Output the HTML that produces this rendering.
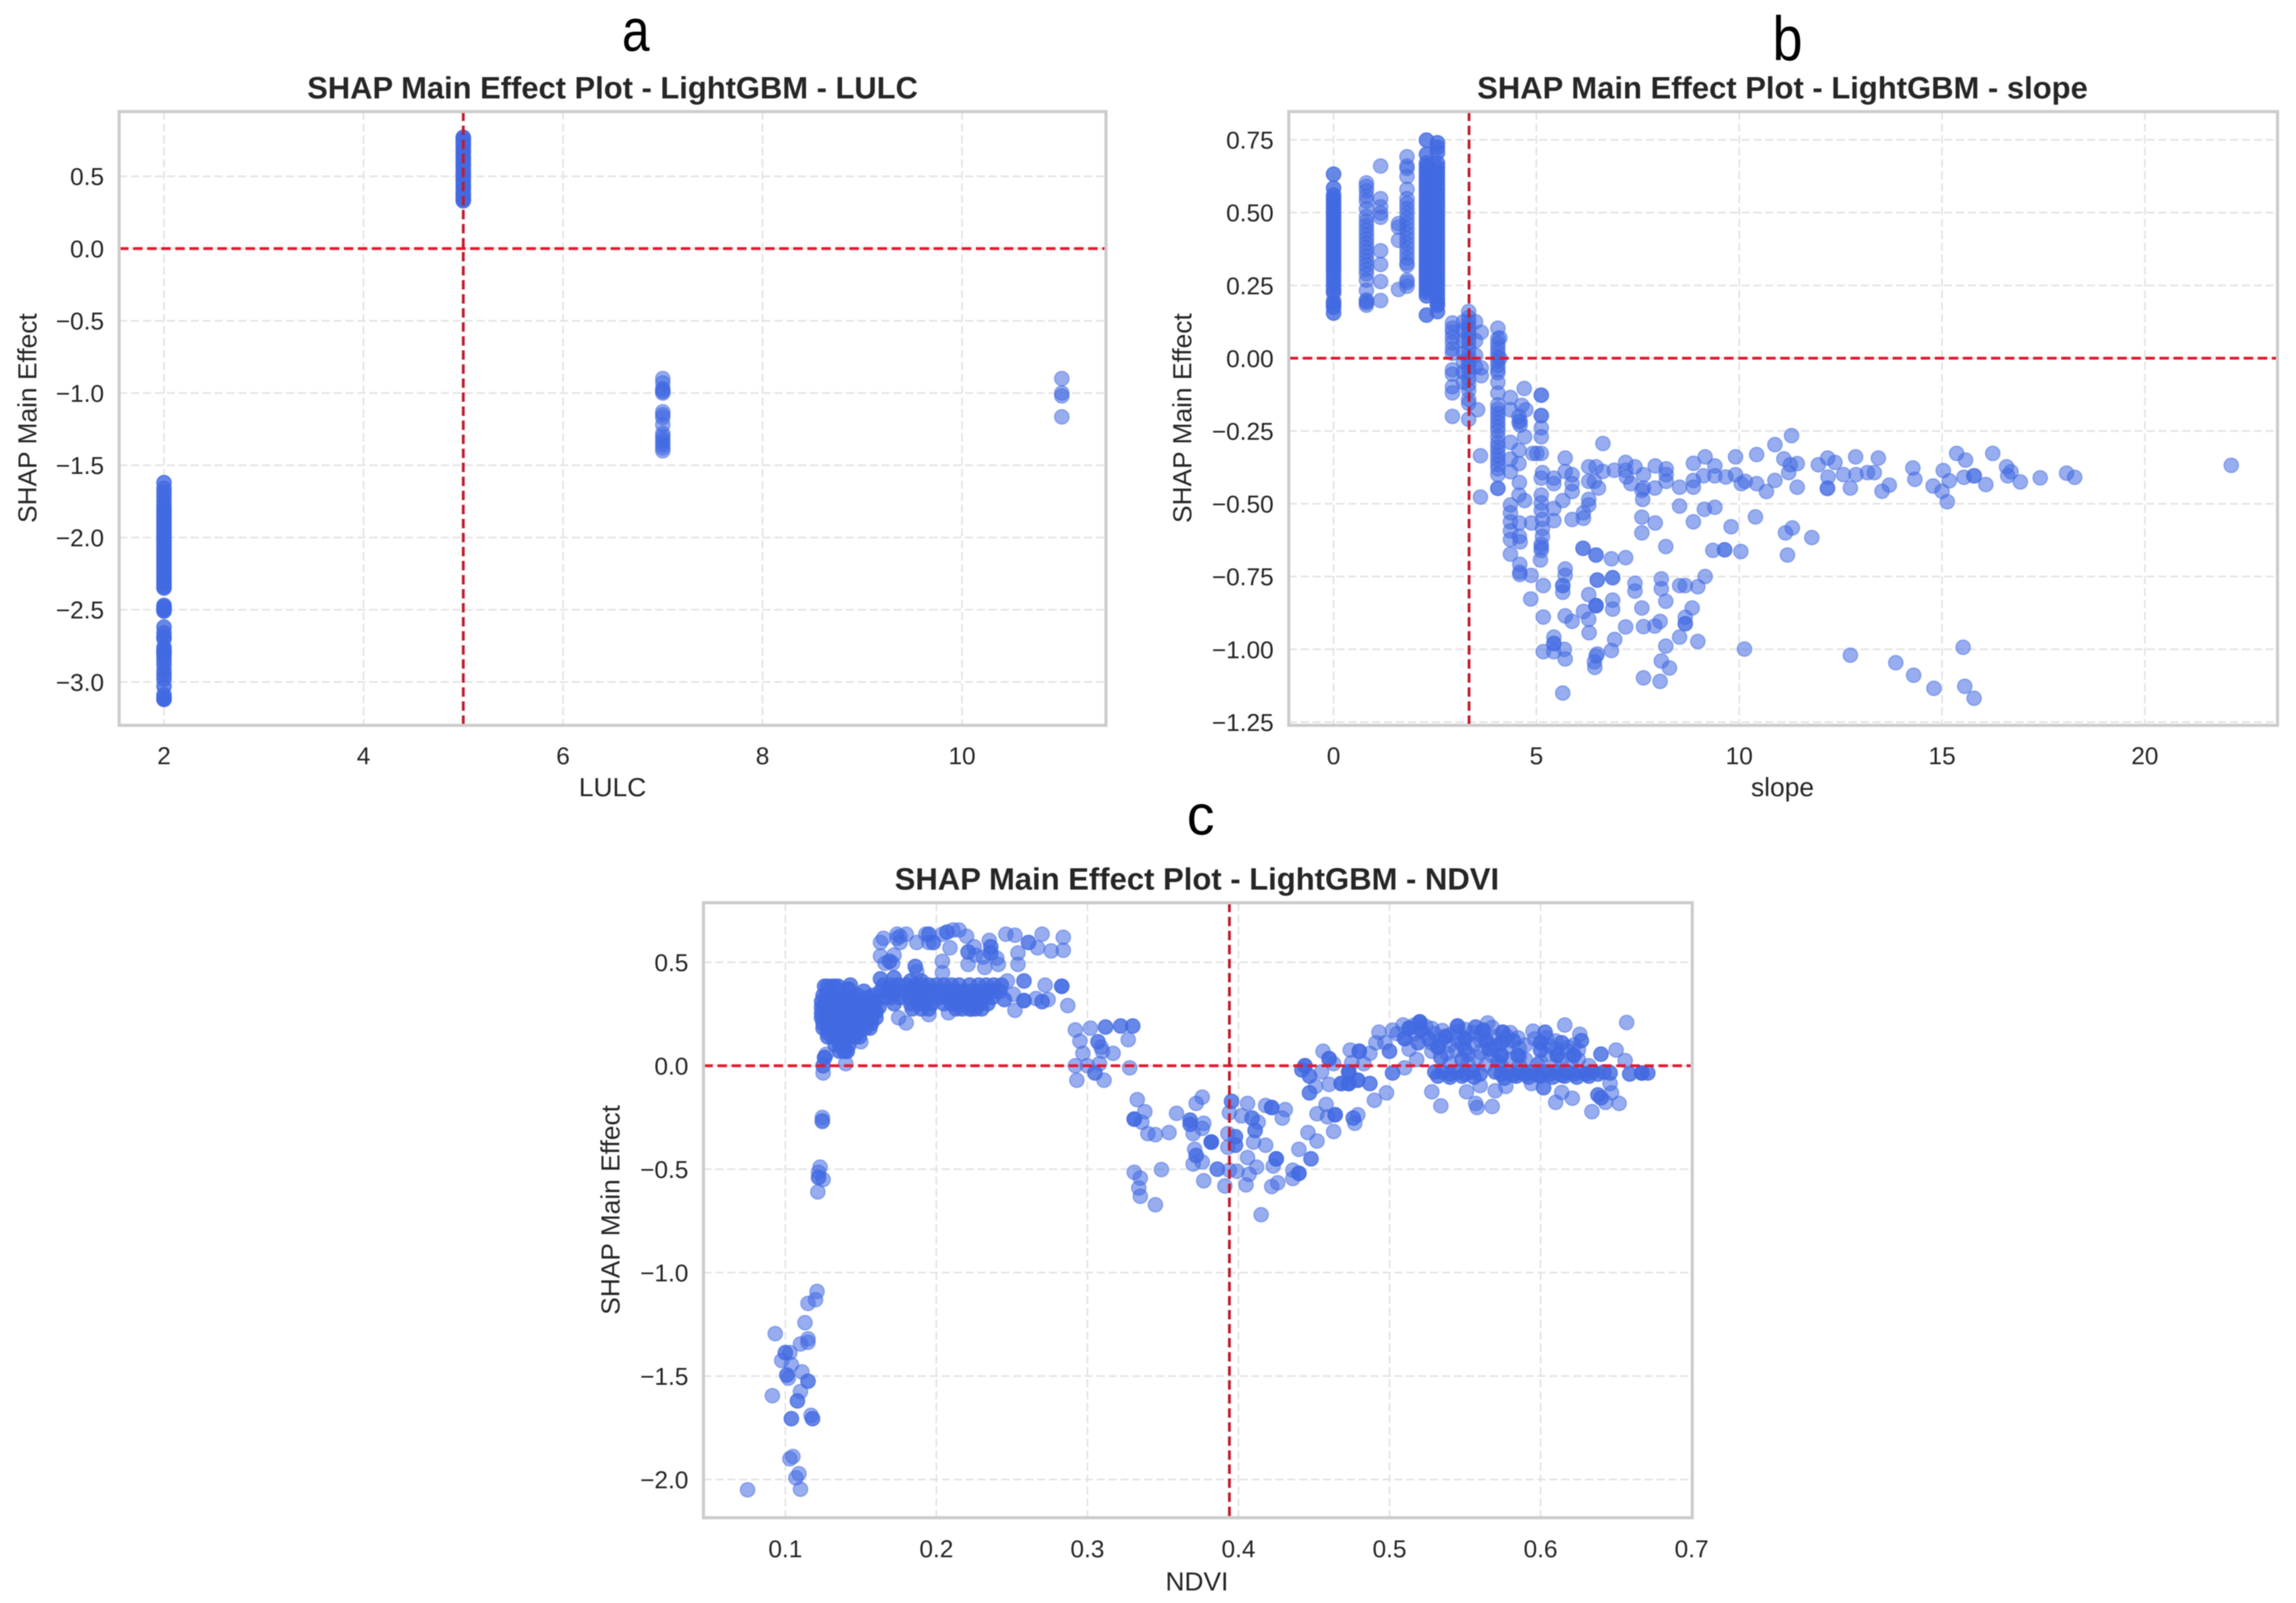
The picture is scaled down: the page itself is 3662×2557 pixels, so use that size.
<!DOCTYPE html>
<html lang="en">
<head>
<meta charset="utf-8">
<title>SHAP Main Effect Plots - LightGBM</title>
<style>
html,body{margin:0;padding:0;background:#fff;}
svg{display:block;font-family:"Liberation Sans",Arial,sans-serif;filter:blur(0.9px);}
.title{font-size:49px;font-weight:bold;fill:#262626;text-anchor:middle;}
.axis-label{font-size:42px;fill:#262626;text-anchor:middle;}
.letter{font-size:96px;fill:#000;}
.tick-label{font-size:39px;fill:#262626;}
</style>
</head>
<body>
<svg id="figure" xmlns="http://www.w3.org/2000/svg" width="3662" height="2557" viewBox="0 0 3662 2557">
  <rect x="0" y="0" width="3662" height="2557" fill="#ffffff"/>

  <text class="letter" x="992" y="81" textLength="44" lengthAdjust="spacingAndGlyphs">a</text>
  <text class="letter" x="2827" y="96" textLength="48" lengthAdjust="spacingAndGlyphs" style="font-size:100px">b</text>
  <text class="letter" x="1893" y="1331" textLength="44" lengthAdjust="spacingAndGlyphs" style="font-size:90px">c</text>

  <g id="panel-a">
    <text class="title" x="977" y="157" textLength="974" lengthAdjust="spacingAndGlyphs">SHAP Main Effect Plot - LightGBM - LULC</text>
    <text class="axis-label" x="977" y="1270">LULC</text>
    <text class="axis-label" transform="translate(58 667) rotate(-90)">SHAP Main Effect</text>
  </g>
  <g id="panel-b">
    <text class="title" x="2843" y="157" textLength="974" lengthAdjust="spacingAndGlyphs">SHAP Main Effect Plot - LightGBM - slope</text>
    <text class="axis-label" x="2843" y="1270">slope</text>
    <text class="axis-label" transform="translate(1900 667) rotate(-90)">SHAP Main Effect</text>
  </g>
  <g id="panel-c">
    <text class="title" x="1909" y="1419" textLength="964" lengthAdjust="spacingAndGlyphs">SHAP Main Effect Plot - LightGBM - NDVI</text>
    <text class="axis-label" x="1909" y="2537">NDVI</text>
    <text class="axis-label" transform="translate(988 1930) rotate(-90)">SHAP Main Effect</text>
  </g>
</svg>
<script>
/* ---------- Panel a: LULC values ---------- */
const lulcXTicks = [2, 4, 6, 8, 10];
const lulcXLabels = ["2", "4", "6", "8", "10"];
const lulcYTicks = [0.5, 0, -0.5, -1, -1.5, -2, -2.5, -3];
const lulcYLabels = ["0.5", "0.0", "−0.5", "−1.0", "−1.5", "−2.0", "−2.5", "−3.0"];
const lulcRefX = 5;
const lulcRefY = 0;
const lulcClass2 = [-1.62,-1.66,-1.69,-1.72,-1.75,-1.78,-1.8,-1.82,-1.84,-1.86,-1.88,-1.9,-1.92,-1.94,-1.96,-1.98,-2,-2.02,-2.04,-2.06,-2.08,-2.1,-2.12,-2.14,-2.16,-2.18,-2.2,-2.22,-2.24,-2.26,-2.28,-2.3,-2.32,-2.34,-2.35,-2.47,-2.48,-2.49,-2.5,-2.51,-2.62,-2.66,-2.69,-2.7,-2.76,-2.78,-2.79,-2.8,-2.82,-2.85,-2.88,-2.92,-2.95,-2.98,-3.03,-3.09,-3.11,-3.12,-3.12];
const lulcClass5 = [0.77,0.76,0.75,0.73,0.72,0.7,0.68,0.67,0.65,0.63,0.62,0.6,0.58,0.57,0.55,0.53,0.52,0.5,0.48,0.47,0.45,0.43,0.42,0.4,0.38,0.37,0.35,0.34,0.33];
const lulcClass7 = [-0.9,-0.93,-0.97,-0.98,-0.99,-1,-1.13,-1.15,-1.17,-1.22,-1.28,-1.3,-1.32,-1.34,-1.36,-1.38,-1.4];
const lulcClass11 = [-0.9,-1,-1.02,-1.165];

/* ---------- Panel b: slope values ---------- */
const slopeXTicks = [0, 5, 10, 15, 20];
const slopeXLabels = ["0", "5", "10", "15", "20"];
const slopeYTicks = [0.75, 0.5, 0.25, 0, -0.25, -0.5, -0.75, -1, -1.25];
const slopeYLabels = ["0.75", "0.50", "0.25", "0.00", "−0.25", "−0.50", "−0.75", "−1.00", "−1.25"];
const slopeRefX = 3.34;
const slopeRefY = 0;
const slopeColumn00 = [0.632,0.584,0.56,0.548,0.536,0.524,0.512,0.5,0.488,0.476,0.464,0.452,0.44,0.428,0.416,0.404,0.392,0.38,0.368,0.356,0.344,0.332,0.32,0.308,0.296,0.28,0.265,0.25,0.235,0.225,0.195,0.185,0.175,0.155];
const slopeColumn08 = [0.602,0.59,0.575,0.556,0.54,0.513,0.487,0.47,0.455,0.44,0.425,0.41,0.395,0.38,0.365,0.35,0.335,0.32,0.305,0.29,0.268,0.233,0.2,0.195,0.19,0.182];
const slopeColumn12 = [0.66,0.548,0.52,0.498,0.484,0.369,0.322,0.263,0.198];
const slopeColumn16 = [0.462,0.45,0.405,0.236];
const slopeColumn18 = [0.692,0.652,0.66,0.624,0.58,0.548,0.531,0.514,0.497,0.48,0.463,0.446,0.429,0.412,0.395,0.378,0.361,0.344,0.327,0.319,0.268,0.26,0.247];
const slopeColumn23 = [0.749,0.7,0.67,0.658,0.646,0.634,0.622,0.61,0.598,0.586,0.574,0.562,0.55,0.538,0.526,0.514,0.502,0.49,0.478,0.466,0.454,0.442,0.43,0.418,0.406,0.394,0.382,0.37,0.358,0.346,0.334,0.322,0.31,0.298,0.286,0.274,0.262,0.25,0.238,0.226,0.214,0.148];
const slopeColumn25 = [0.74,0.724,0.706,0.67,0.655,0.64,0.625,0.61,0.595,0.58,0.565,0.55,0.535,0.52,0.505,0.49,0.475,0.46,0.445,0.43,0.415,0.4,0.385,0.37,0.355,0.34,0.325,0.31,0.295,0.28,0.265,0.25,0.235,0.22,0.205,0.19,0.182,0.16];
const slopeColumn29 = [0.121,0.103,0.089,0.071,0.053,0.032,0.017,-0.04,-0.055,-0.098,-0.119,-0.2];
const slopeColumn32 = [0.125,0.096,0.06,0.017,-0.012,-0.047,-0.083];
const slopeColumn33 = [0.16,0.14,0.125,0.11,0.096,0.082,0.067,0.053,0.032,0.01,-0.004,-0.019,-0.033,-0.047,-0.069,-0.09,-0.11,-0.141,-0.155,-0.21];
const slopeColumn41 = [0.103,0.067,0.05,0.035,0.02,0.005,-0.01,-0.025,-0.04,-0.05,-0.083,-0.12,-0.16,-0.175,-0.19,-0.205,-0.22,-0.235,-0.25,-0.27,-0.29,-0.305,-0.32,-0.335,-0.35,-0.365,-0.38,-0.4,-0.447,-0.447];
const slopeCloudUpper = [[3.5,0.125],[3.5,0.06],[3.5,0.01],[3.5,-0.03],[3.64,0.089],[3.64,-0.033],[3.64,-0.06],[3.55,-0.177],[4.1,0.07],[4.1,0],[4.36,-0.135],[4.7,-0.104],[5.12,-0.127],[5.12,-0.127],[5.12,-0.197],[5.12,-0.197],[4.6,-0.216],[4.57,-0.2],[4.57,-0.22],[4.6,-0.23],[4.36,-0.177],[4.64,-0.162],[4.74,-0.177],[5.12,-0.239],[5.12,-0.27],[4.71,-0.27],[4.36,-0.289],[4.57,-0.316],[4.57,-0.362],[4.36,-0.347],[4.91,-0.327],[5.12,-0.327],[5.01,-0.327],[3.62,-0.335],[3.62,-0.477],[4.58,-0.427],[4.36,-0.39],[4.71,-0.489],[4.57,-0.47]];
const slopeCloudMain = [[4.36,-0.504],[4.36,-0.531],[4.36,-0.562],[4.36,-0.593],[4.36,-0.623],[4.36,-0.673],[4.58,-0.566],[4.58,-0.612],[4.6,-0.631],[4.88,-0.566],[5.12,-0.412],[5.15,-0.393],[5.12,-0.47],[5.12,-0.497],[5.12,-0.523],[5.15,-0.554],[5.15,-0.585],[5.15,-0.612],[5.12,-0.639],[5.12,-0.65],[5.12,-0.66],[5.1,-0.693],[4.59,-0.708],[4.59,-0.735],[4.59,-0.743],[4.87,-0.746],[5.17,-0.781],[4.86,-0.827],[5.17,-0.889],[5.43,-0.412],[5.43,-0.431],[5.43,-0.516],[5.43,-0.558],[5.71,-0.343],[5.71,-0.389],[5.65,-0.489],[5.88,-0.4],[5.88,-0.431],[5.88,-0.458],[5.88,-0.554],[6.16,-0.55],[6.16,-0.531],[6.29,-0.373],[6.29,-0.423],[6.29,-0.485],[6.29,-0.504],[6.47,-0.373],[6.43,-0.423],[6.53,-0.446],[6.64,-0.293],[6.64,-0.389],[6.92,-0.385],[7.2,-0.358],[7.2,-0.385],[7.22,-0.408],[7.33,-0.431],[7.43,-0.373],[7.64,-0.4],[7.64,-0.446],[7.6,-0.454],[7.62,-0.485],[7.92,-0.446],[7.93,-0.37],[8.2,-0.38],[8.2,-0.4],[8.2,-0.423]];
const slopeBandRight = [[8.53,-0.443],[8.53,-0.508],[8.87,-0.361],[9.16,-0.339],[8.87,-0.42],[8.87,-0.443],[9.12,-0.404],[9.4,-0.37],[9.4,-0.404],[9.67,-0.408],[9.91,-0.339],[9.91,-0.4],[10.05,-0.431],[10.15,-0.423],[10.43,-0.331],[10.43,-0.431],[10.67,-0.458],[10.88,-0.297],[10.88,-0.42],[11.1,-0.346],[11.29,-0.266],[11.26,-0.366],[11.43,-0.362],[11.22,-0.393],[11.43,-0.443],[11.95,-0.366],[12.18,-0.343],[12.36,-0.358],[12.19,-0.408],[12.18,-0.446],[12.17,-0.448],[12.57,-0.4],[12.74,-0.446],[12.87,-0.339],[12.88,-0.4],[13.16,-0.393],[13.33,-0.393],[13.43,-0.343],[13.52,-0.457],[13.7,-0.436],[14.28,-0.377],[14.33,-0.416],[14.78,-0.439],[15.03,-0.386],[15,-0.457],[15.13,-0.493],[15.36,-0.327],[15.18,-0.421],[15.58,-0.35],[15.54,-0.409],[15.78,-0.404],[15.8,-0.404],[16.08,-0.434],[16.25,-0.327],[16.59,-0.373],[16.62,-0.404],[16.7,-0.39],[16.93,-0.425],[17.42,-0.411],[18.07,-0.395],[18.27,-0.409],[22.13,-0.368]];
const slopeLowerMiddle = [[7.6,-0.546],[7.93,-0.566],[7.6,-0.6],[9.14,-0.519],[9.4,-0.512],[8.87,-0.562],[9.8,-0.579],[10.4,-0.545],[11.14,-0.6],[11.31,-0.583],[11.79,-0.616],[11.19,-0.676],[8.19,-0.647],[9.35,-0.66],[9.64,-0.658],[9.64,-0.658],[10.04,-0.664],[6.15,-0.653],[6.15,-0.653],[6.47,-0.676],[6.47,-0.676],[6.85,-0.689],[7.2,-0.685]];
const slopeLowerDeep = [[5.71,-0.724],[5.71,-0.746],[5.65,-0.781],[5.65,-0.781],[5.65,-0.804],[6.5,-0.762],[6.5,-0.762],[6.88,-0.754],[6.88,-0.754],[7.43,-0.773],[7.43,-0.8],[8.08,-0.758],[8.08,-0.792],[8.19,-0.835],[8.53,-0.781],[8.67,-0.781],[8.98,-0.785],[9.16,-0.75],[6.29,-0.812],[6.47,-0.85],[6.47,-0.85],[6.47,-0.85],[6.88,-0.831],[6.88,-0.862],[6.16,-0.87],[6.29,-0.897],[6.3,-0.943],[7.6,-0.858],[8.84,-0.858],[5.71,-0.885],[5.88,-0.904],[7.2,-0.923],[7.64,-0.922],[7.92,-0.92],[8.05,-0.904],[8.67,-0.912],[8.67,-0.912],[8.67,-0.89],[8.53,-0.958],[8.98,-0.973],[6.93,-0.966],[8.19,-0.989],[5.43,-0.958],[5.43,-0.98],[5.43,-0.98],[5.17,-1.008],[5.43,-1.008],[5.69,-1],[5.71,-1.033],[6.5,-1.016],[6.47,-1.023],[6.43,-1.043],[6.44,-1.062],[6.85,-1.004],[8.08,-1.04],[8.28,-1.064],[7.64,-1.098],[8.05,-1.11],[5.65,-1.15],[10.13,-0.999],[12.74,-1.02],[15.52,-0.993],[15.56,-1.127],[15.79,-1.168],[14.8,-1.134],[14.3,-1.089],[13.86,-1.046]];

/* ---------- Panel c: NDVI values ---------- */
const ndviXTicks = [0.1, 0.2, 0.3, 0.4, 0.5, 0.6, 0.7];
const ndviXLabels = ["0.1", "0.2", "0.3", "0.4", "0.5", "0.6", "0.7"];
const ndviYTicks = [0.5, 0, -0.5, -1, -1.5, -2];
const ndviYLabels = ["0.5", "0.0", "−0.5", "−1.0", "−1.5", "−2.0"];
const ndviRefX = 0.394;
const ndviRefY = 0;
const ndviLowTail = [[0.075,-2.05],[0.0914,-1.595],[0.0933,-1.295],[0.0976,-1.425],[0.1,-1.387],[0.1,-1.387],[0.103,-1.387],[0.104,-1.445],[0.101,-1.495],[0.101,-1.495],[0.102,-1.51],[0.111,-1.48],[0.115,-1.525],[0.115,-1.525],[0.11,-1.575],[0.108,-1.62],[0.108,-1.62],[0.104,-1.706],[0.104,-1.706],[0.118,-1.706],[0.118,-1.706],[0.117,-1.69],[0.105,-1.889],[0.103,-1.9],[0.109,-1.972],[0.107,-1.992],[0.11,-2.047],[0.113,-1.242],[0.115,-1.32],[0.115,-1.337],[0.11,-1.345],[0.115,-1.149],[0.12,-1.131],[0.121,-1.091]];
const ndviRiseStem = [[0.1245,-0.25],[0.1245,-0.265],[0.1245,-0.27],[0.123,-0.49],[0.122,-0.515],[0.122,-0.54],[0.122,-0.54],[0.125,-0.55],[0.1215,-0.61],[0.126,0.04],[0.126,0.04],[0.126,0.04],[0.127,0.055],[0.125,0],[0.125,0],[0.125,-0.035],[0.14,0.07],[0.14,0.01],[0.15,0.116]];
const ndviLeftBlock = [[0.126,0.384],[0.128,0.384],[0.131,0.384],[0.133,0.384],[0.135,0.384],[0.143,0.39],[0.142,0.37],[0.141,0.37],[0.125,0.34],[0.127,0.335],[0.13,0.33],[0.133,0.325],[0.136,0.32],[0.139,0.335],[0.142,0.33],[0.145,0.325],[0.148,0.34],[0.152,0.36],[0.155,0.33],[0.158,0.34],[0.124,0.31],[0.127,0.305],[0.13,0.3],[0.133,0.295],[0.136,0.3],[0.14,0.305],[0.144,0.3],[0.148,0.31],[0.152,0.3],[0.156,0.31],[0.16,0.31],[0.124,0.283],[0.126,0.283],[0.129,0.283],[0.132,0.283],[0.135,0.283],[0.138,0.283],[0.141,0.283],[0.144,0.283],[0.147,0.283],[0.15,0.283],[0.153,0.283],[0.156,0.283],[0.159,0.283],[0.162,0.283],[0.124,0.255],[0.128,0.255],[0.132,0.255],[0.136,0.255],[0.14,0.255],[0.144,0.255],[0.148,0.255],[0.152,0.255],[0.156,0.255],[0.16,0.26],[0.124,0.232],[0.127,0.232],[0.13,0.232],[0.133,0.232],[0.136,0.232],[0.139,0.232],[0.142,0.232],[0.145,0.232],[0.148,0.232],[0.151,0.232],[0.154,0.232],[0.157,0.232],[0.16,0.232],[0.125,0.205],[0.129,0.205],[0.133,0.205],[0.137,0.205],[0.141,0.205],[0.145,0.205],[0.149,0.205],[0.153,0.205],[0.157,0.205],[0.125,0.182],[0.128,0.182],[0.131,0.182],[0.134,0.182],[0.137,0.182],[0.14,0.182],[0.143,0.182],[0.146,0.182],[0.15,0.182],[0.153,0.182],[0.156,0.182],[0.128,0.16],[0.132,0.16],[0.136,0.16],[0.14,0.16],[0.144,0.16],[0.148,0.16],[0.128,0.14],[0.131,0.14],[0.134,0.14],[0.137,0.14],[0.14,0.14],[0.143,0.14],[0.146,0.14],[0.149,0.14],[0.133,0.1],[0.136,0.1],[0.139,0.1],[0.142,0.1],[0.136,0.07],[0.139,0.07],[0.141,0.07]];
const ndviMiddleBand = [[0.163,0.42],[0.172,0.425],[0.183,0.41],[0.19,0.41],[0.165,0.39],[0.17,0.39],[0.175,0.39],[0.18,0.39],[0.186,0.39],[0.19,0.39],[0.195,0.39],[0.2,0.39],[0.205,0.39],[0.21,0.39],[0.215,0.39],[0.222,0.39],[0.228,0.39],[0.233,0.39],[0.238,0.39],[0.243,0.39],[0.163,0.36],[0.168,0.36],[0.172,0.36],[0.178,0.36],[0.184,0.36],[0.188,0.36],[0.193,0.36],[0.198,0.36],[0.203,0.36],[0.208,0.36],[0.213,0.36],[0.218,0.36],[0.223,0.36],[0.228,0.36],[0.233,0.36],[0.238,0.36],[0.242,0.36],[0.166,0.33],[0.17,0.33],[0.176,0.33],[0.182,0.33],[0.187,0.33],[0.191,0.33],[0.196,0.33],[0.202,0.33],[0.207,0.33],[0.212,0.33],[0.217,0.33],[0.222,0.33],[0.227,0.33],[0.232,0.33],[0.237,0.33],[0.172,0.3],[0.183,0.3],[0.188,0.3],[0.192,0.3],[0.197,0.3],[0.205,0.3],[0.21,0.3],[0.215,0.3],[0.22,0.3],[0.224,0.3],[0.229,0.3],[0.234,0.3],[0.184,0.275],[0.19,0.275],[0.195,0.275],[0.213,0.275],[0.217,0.275],[0.222,0.275],[0.226,0.275],[0.23,0.275]];
const ndviMiddleRight = [[0.247,0.41],[0.258,0.41],[0.258,0.41],[0.272,0.39],[0.283,0.384],[0.283,0.384],[0.283,0.384],[0.245,0.32],[0.245,0.32],[0.251,0.345],[0.258,0.315],[0.258,0.315],[0.258,0.315],[0.266,0.325],[0.27,0.31],[0.27,0.31],[0.274,0.32],[0.252,0.268],[0.287,0.291],[0.208,0.256],[0.223,0.273],[0.195,0.247],[0.175,0.232],[0.18,0.207]];
const ndviTopBand = [[0.163,0.596],[0.165,0.616],[0.163,0.53],[0.169,0.505],[0.169,0.505],[0.172,0.535],[0.171,0.495],[0.166,0.495],[0.174,0.636],[0.174,0.616],[0.176,0.626],[0.18,0.636],[0.176,0.596],[0.187,0.596],[0.193,0.636],[0.195,0.636],[0.195,0.636],[0.198,0.596],[0.198,0.596],[0.195,0.596],[0.204,0.636],[0.207,0.646],[0.207,0.646],[0.211,0.656],[0.215,0.656],[0.22,0.626],[0.209,0.57],[0.204,0.505],[0.204,0.45],[0.186,0.48],[0.186,0.48],[0.187,0.455],[0.221,0.55],[0.221,0.55],[0.225,0.575],[0.221,0.49],[0.235,0.606],[0.236,0.575],[0.236,0.575],[0.236,0.545],[0.236,0.545],[0.231,0.525],[0.232,0.475],[0.241,0.49],[0.24,0.52],[0.226,0.535],[0.246,0.636],[0.252,0.631],[0.261,0.596],[0.261,0.596],[0.27,0.636],[0.267,0.57],[0.276,0.555],[0.284,0.621],[0.284,0.558],[0.254,0.545],[0.254,0.49]];
const ndviDescent = [[0.292,0.173],[0.302,0.182],[0.312,0.187],[0.312,0.187],[0.322,0.192],[0.322,0.192],[0.33,0.192],[0.33,0.192],[0.327,0.126],[0.295,0.119],[0.307,0.116],[0.307,0.116],[0.309,0.09],[0.31,0.07],[0.317,0.06],[0.297,0.06],[0.292,0],[0.3,0.0],[0.308,0.01],[0.328,-0.01],[0.293,-0.07],[0.305,-0.035],[0.305,-0.035],[0.311,-0.07],[0.333,-0.164],[0.338,-0.222],[0.331,-0.258],[0.331,-0.258],[0.331,-0.258],[0.336,-0.273],[0.34,-0.328],[0.345,-0.333],[0.354,-0.323],[0.331,-0.515],[0.335,-0.543],[0.334,-0.591],[0.335,-0.631],[0.345,-0.672],[0.349,-0.502]];
const ndviTrough = [[0.359,-0.23],[0.368,-0.263],[0.368,-0.263],[0.376,-0.152],[0.372,-0.182],[0.368,-0.283],[0.368,-0.283],[0.377,-0.278],[0.376,-0.303],[0.37,-0.328],[0.382,-0.369],[0.382,-0.369],[0.382,-0.369],[0.382,-0.369],[0.371,-0.404],[0.372,-0.434],[0.372,-0.434],[0.376,-0.465],[0.37,-0.475],[0.386,-0.5],[0.386,-0.5],[0.393,-0.328],[0.398,-0.343],[0.398,-0.343],[0.393,-0.394],[0.398,-0.384],[0.398,-0.384],[0.394,-0.505],[0.399,-0.51],[0.377,-0.556],[0.391,-0.581],[0.405,-0.576],[0.3954,-0.172],[0.3954,-0.172],[0.394,-0.227],[0.406,-0.182],[0.402,-0.242],[0.409,-0.253],[0.409,-0.253],[0.413,-0.273],[0.411,-0.313],[0.411,-0.313],[0.41,-0.369],[0.418,-0.384],[0.406,-0.444],[0.412,-0.49],[0.407,-0.525],[0.415,-0.72],[0.418,-0.192],[0.422,-0.202],[0.422,-0.202],[0.422,-0.202],[0.431,-0.212],[0.429,-0.253],[0.425,-0.45],[0.425,-0.45],[0.425,-0.45],[0.423,-0.485],[0.44,-0.404],[0.448,-0.45],[0.448,-0.45],[0.446,-0.323],[0.452,-0.364],[0.426,-0.566],[0.422,-0.584],[0.436,-0.505],[0.44,-0.52],[0.44,-0.52],[0.44,-0.52],[0.436,-0.545],[0.458,-0.187],[0.452,-0.232],[0.459,-0.247],[0.464,-0.237],[0.464,-0.237],[0.464,-0.237],[0.476,-0.253],[0.476,-0.253],[0.479,-0.237],[0.463,-0.318],[0.477,-0.278]];
const ndviRecovery = [[0.447,-0.131],[0.447,-0.131],[0.451,-0.1],[0.444,0],[0.444,0],[0.444,0],[0.442,-0.02],[0.442,-0.02],[0.447,-0.05],[0.447,-0.05],[0.455,-0.03],[0.46,0.03],[0.463,0.01],[0.456,0.07],[0.46,0.035],[0.46,0.035],[0.468,-0.086],[0.468,-0.086],[0.468,-0.086],[0.473,-0.086],[0.473,-0.086],[0.473,-0.086],[0.473,-0.086],[0.479,-0.07],[0.479,-0.07],[0.479,-0.07],[0.487,-0.086],[0.487,-0.086],[0.473,-0.03],[0.473,-0.03],[0.473,-0.03],[0.473,-0.03],[0.46,-0.09],[0.474,0.076],[0.48,0.07],[0.48,0.07],[0.48,0.07],[0.487,0.06],[0.475,0.015],[0.483,0.01],[0.498,-0.131],[0.49,-0.167],[0.528,-0.126],[0.534,-0.194],[0.502,-0.035],[0.502,-0.035],[0.51,-0.01],[0.518,0.03]];
const ndviPlateau = [[0.493,0.162],[0.502,0.172],[0.509,0.197],[0.52,0.212],[0.52,0.212],[0.52,0.212],[0.52,0.212],[0.513,0.182],[0.513,0.182],[0.513,0.182],[0.521,0.172],[0.521,0.172],[0.521,0.172],[0.526,0.131],[0.526,0.131],[0.51,0.131],[0.51,0.131],[0.51,0.131],[0.519,0.111],[0.519,0.111],[0.497,0.111],[0.491,0.111],[0.5,0.07],[0.5,0.07],[0.513,0.08],[0.545,0.192],[0.545,0.192],[0.545,0.192],[0.557,0.187],[0.557,0.187],[0.565,0.207],[0.562,0.172],[0.562,0.172],[0.562,0.172],[0.575,0.162],[0.575,0.162],[0.575,0.162],[0.582,0.121],[0.582,0.121],[0.537,0.141],[0.537,0.141],[0.537,0.141],[0.55,0.131],[0.55,0.131],[0.55,0.131],[0.564,0.121],[0.564,0.121],[0.564,0.121],[0.574,0.111],[0.574,0.111],[0.574,0.111],[0.532,0.09],[0.532,0.09],[0.532,0.09],[0.55,0.08],[0.55,0.08],[0.566,0.08],[0.566,0.08],[0.566,0.08],[0.574,0.05],[0.574,0.05],[0.574,0.05],[0.585,0.05],[0.585,0.05],[0.534,0.04],[0.534,0.04],[0.548,0.03],[0.548,0.03],[0.558,0.04],[0.572,0.02],[0.572,0.02],[0.595,0.167],[0.603,0.162],[0.603,0.162],[0.616,0.197],[0.626,0.152],[0.627,0.121],[0.627,0.121],[0.6,0.111],[0.6,0.111],[0.6,0.111],[0.614,0.111],[0.614,0.111],[0.6,0.076],[0.6,0.076],[0.611,0.05],[0.611,0.05],[0.611,0.05],[0.622,0.05],[0.622,0.05],[0.622,0.05],[0.586,0.045],[0.64,0.056],[0.64,0.056],[0.65,0.076],[0.656,0.025],[0.657,0.209]];
const ndviPlateauFill = [[0.516,0.195],[0.524,0.19],[0.528,0.18],[0.505,0.155],[0.517,0.155],[0.53,0.155],[0.535,0.17],[0.54,0.15],[0.545,0.165],[0.55,0.175],[0.555,0.16],[0.56,0.15],[0.568,0.185],[0.57,0.14],[0.578,0.14],[0.58,0.16],[0.585,0.135],[0.59,0.1],[0.528,0.11],[0.534,0.12],[0.54,0.1],[0.545,0.125],[0.548,0.105],[0.556,0.105],[0.56,0.125],[0.57,0.095],[0.578,0.09],[0.586,0.085],[0.528,0.07],[0.538,0.06],[0.544,0.075],[0.552,0.055],[0.56,0.065],[0.568,0.05],[0.58,0.03],[0.59,0.03],[0.596,0.13],[0.604,0.135],[0.61,0.12],[0.606,0.095],[0.618,0.09],[0.622,0.1],[0.61,0.08],[0.618,0.07],[0.625,0.075],[0.604,0.055],[0.614,0.03],[0.625,0.03],[0.6,0.02],[0.54,0.01],[0.552,0.01],[0.564,0.005],[0.574,0],[0.586,0],[0.598,0.005],[0.61,0],[0.62,0.005],[0.632,0]];
const ndviBottomRow = [[0.53,-0.03],[0.535,-0.03],[0.54,-0.04],[0.545,-0.03],[0.55,-0.04],[0.555,-0.03],[0.56,-0.04],[0.57,-0.03],[0.574,-0.04],[0.578,-0.03],[0.582,-0.045],[0.586,-0.03],[0.59,-0.04],[0.594,-0.03],[0.598,-0.045],[0.602,-0.03],[0.606,-0.04],[0.61,-0.03],[0.614,-0.045],[0.618,-0.03],[0.622,-0.04],[0.626,-0.03],[0.63,-0.04],[0.634,-0.03],[0.638,-0.04],[0.642,-0.03],[0.646,-0.035],[0.532,-0.05],[0.54,-0.055],[0.548,-0.05],[0.556,-0.055],[0.576,-0.06],[0.584,-0.05],[0.592,-0.055],[0.6,-0.05],[0.608,-0.055],[0.616,-0.05],[0.624,-0.055],[0.632,-0.05],[0.659,-0.04],[0.667,-0.035],[0.667,-0.035],[0.671,-0.035]];
const ndviBelowRow = [[0.551,-0.126],[0.56,-0.096],[0.57,-0.121],[0.577,-0.1],[0.557,-0.182],[0.558,-0.202],[0.568,-0.197],[0.594,-0.086],[0.602,-0.106],[0.602,-0.106],[0.614,-0.129],[0.61,-0.177],[0.621,-0.157],[0.634,-0.222],[0.638,-0.141],[0.638,-0.141],[0.64,-0.155],[0.64,-0.155],[0.647,-0.131],[0.643,-0.177],[0.652,-0.182],[0.646,-0.086]];

/* ---------- Chart construction ---------- */
const svg = document.getElementById('figure');
const NS = 'http://www.w3.org/2000/svg';

function linearScale(d0, d1, r0, r1) {
  return function (v) { return r0 + (v - d0) * (r1 - r0) / (d1 - d0); };
}

function columnToPairs(x, ys) {
  return ys.map(function (y) { return [x, y]; });
}

function drawPanel(parent, prefix, frame, xDomain, yDomain, xTicks, xLabels, yTicks, yLabels, points, refX, refY, tickBaseline) {
  const xScale = linearScale(xDomain[0], xDomain[1], frame.left, frame.right);
  const yScale = linearScale(yDomain[0], yDomain[1], frame.bottom, frame.top);

  xTicks.forEach(function (t, i) {
    const line = document.createElementNS(NS, 'line');
    
    
    line.setAttribute('x1', xScale(t));
    line.setAttribute('x2', xScale(t));
    line.setAttribute('y1', frame.top);
    line.setAttribute('y2', frame.bottom);
    line.setAttribute('stroke', '#e2e2e2');
    line.setAttribute('stroke-width', '2.5');
    line.setAttribute('stroke-dasharray', '13 6');
    parent.appendChild(line);

    const label = document.createElementNS(NS, 'text');
    
    
    label.setAttribute('class', 'tick-label');
    label.setAttribute('x', xScale(t));
    label.setAttribute('y', tickBaseline);
    label.setAttribute('text-anchor', 'middle');
    label.textContent = xLabels[i];
    parent.appendChild(label);
  });

  yTicks.forEach(function (t, i) {
    const line = document.createElementNS(NS, 'line');
    
    
    line.setAttribute('x1', frame.left);
    line.setAttribute('x2', frame.right);
    line.setAttribute('y1', yScale(t));
    line.setAttribute('y2', yScale(t));
    line.setAttribute('stroke', '#e2e2e2');
    line.setAttribute('stroke-width', '2.5');
    line.setAttribute('stroke-dasharray', '13 6');
    parent.appendChild(line);

    const label = document.createElementNS(NS, 'text');
    
    
    label.setAttribute('class', 'tick-label');
    label.setAttribute('x', frame.left - 24);
    label.setAttribute('y', yScale(t) + 14);
    label.setAttribute('text-anchor', 'end');
    label.textContent = yLabels[i];
    parent.appendChild(label);
  });

  points.forEach(function (p) {
    const dot = document.createElementNS(NS, 'circle');
    
    
    dot.setAttribute('cx', xScale(p[0]));
    dot.setAttribute('cy', yScale(p[1]));
    dot.setAttribute('r', '11.5');
    dot.setAttribute('fill', '#4169e1');
    dot.setAttribute('fill-opacity', '0.55');
    dot.setAttribute('stroke', '#4169e1');
    dot.setAttribute('stroke-opacity', '0.5');
    dot.setAttribute('stroke-width', '2');
    parent.appendChild(dot);
  });

  const zeroLine = document.createElementNS(NS, 'line');
  
  
  zeroLine.setAttribute('x1', frame.left);
  zeroLine.setAttribute('x2', frame.right);
  zeroLine.setAttribute('y1', yScale(refY));
  zeroLine.setAttribute('y2', yScale(refY));
  zeroLine.setAttribute('stroke', '#e3172d');
  zeroLine.setAttribute('stroke-width', '4.5');
  zeroLine.setAttribute('stroke-dasharray', '15 7.4');
  parent.appendChild(zeroLine);

  const refLine = document.createElementNS(NS, 'line');
  
  
  refLine.setAttribute('x1', xScale(refX));
  refLine.setAttribute('x2', xScale(refX));
  refLine.setAttribute('y1', frame.top);
  refLine.setAttribute('y2', frame.bottom);
  refLine.setAttribute('stroke', '#c01c2e');
  refLine.setAttribute('stroke-width', '4.5');
  refLine.setAttribute('stroke-dasharray', '15 7.4');
  parent.appendChild(refLine);

  const border = document.createElementNS(NS, 'rect');
  
  
  border.setAttribute('x', frame.left);
  border.setAttribute('y', frame.top);
  border.setAttribute('width', frame.right - frame.left);
  border.setAttribute('height', frame.bottom - frame.top);
  border.setAttribute('fill', 'none');
  border.setAttribute('stroke', '#cccccc');
  border.setAttribute('stroke-width', '5');
  parent.appendChild(border);
}

const lulcPoints = [].concat(
  columnToPairs(2, lulcClass2),
  columnToPairs(2, lulcClass2),
  columnToPairs(5, lulcClass5),
  columnToPairs(5, lulcClass5),
  columnToPairs(7, lulcClass7),
  columnToPairs(11, lulcClass11)
);
const slopePoints = [].concat(
  columnToPairs(0, slopeColumn00),
  columnToPairs(0, slopeColumn00),
  columnToPairs(0.81, slopeColumn08),
  columnToPairs(1.16, slopeColumn12),
  columnToPairs(1.6, slopeColumn16),
  columnToPairs(1.81, slopeColumn18),
  columnToPairs(2.29, slopeColumn23),
  columnToPairs(2.29, slopeColumn23),
  columnToPairs(2.56, slopeColumn25),
  columnToPairs(2.56, slopeColumn25),
  columnToPairs(2.93, slopeColumn29),
  columnToPairs(3.2, slopeColumn32),
  columnToPairs(3.33, slopeColumn33),
  columnToPairs(4.05, slopeColumn41),
  slopeCloudUpper, slopeCloudMain, slopeBandRight, slopeLowerMiddle, slopeLowerDeep
);
const ndviPoints = [].concat(
  ndviLowTail, ndviRiseStem, ndviLeftBlock, ndviLeftBlock, ndviMiddleBand, ndviMiddleBand, ndviMiddleRight, ndviTopBand,
  ndviDescent, ndviTrough, ndviRecovery, ndviPlateau, ndviPlateauFill, ndviBottomRow, ndviBottomRow, ndviBelowRow
);

drawPanel(document.getElementById('panel-a'), 'lulc',
  {left: 190, right: 1764, top: 178, bottom: 1157},
  [1.55, 11.443], [-3.30, 0.948],
  lulcXTicks, lulcXLabels, lulcYTicks, lulcYLabels, lulcPoints, lulcRefX, lulcRefY, 1219);

drawPanel(document.getElementById('panel-b'), 'slope',
  {left: 2055.5, right: 3632.5, top: 178, bottom: 1157},
  [-1.105, 23.27], [-1.261, 0.847],
  slopeXTicks, slopeXLabels, slopeYTicks, slopeYLabels, slopePoints, slopeRefX, slopeRefY, 1219);

drawPanel(document.getElementById('panel-c'), 'ndvi',
  {left: 1122, right: 2699, top: 1440, bottom: 2421},
  [0.0458, 0.7004], [-2.185, 0.788],
  ndviXTicks, ndviXLabels, ndviYTicks, ndviYLabels, ndviPoints, ndviRefX, ndviRefY, 2484);
</script>
</body>
</html>
